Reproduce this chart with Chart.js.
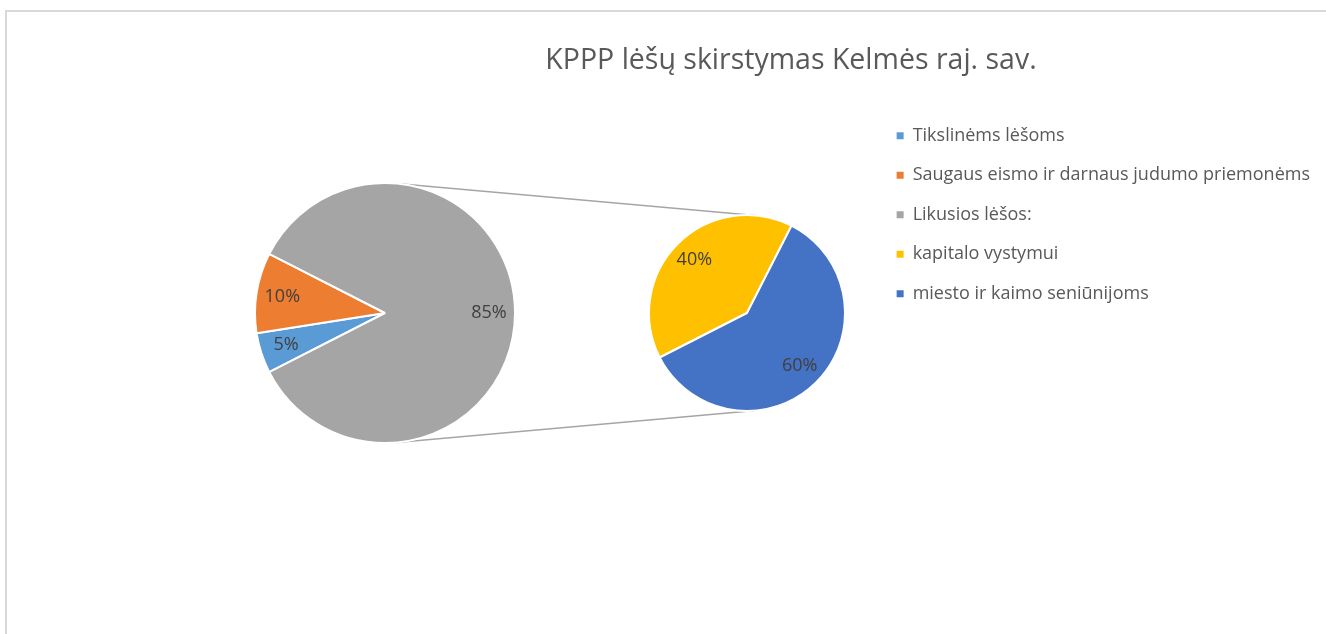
<!DOCTYPE html>
<html lang="lt">
<head>
<meta charset="utf-8">
<title>KPPP lėšų skirstymas Kelmės raj. sav.</title>
<script src="https://cdn.jsdelivr.net/npm/chart.js@4/dist/chart.umd.min.js"></script>
<style>
  html, body { margin: 0; padding: 0; background: #fff; }
  #wrap { position: relative; width: 1326px; height: 634px; overflow: hidden; background: #fff; }
  #frame {
    position: absolute; left: 5px; top: 10px; right: -10px; bottom: -10px;
    border-top: 2px solid #d9d9d9; border-left: 2px solid #d9d9d9;
  }
  canvas { position: absolute; left: 0; top: 0; }
</style>
</head>
<body>
<div id="wrap">
  <div id="frame"></div>
  <canvas id="titleChart" width="1326" height="634"></canvas>
  <canvas id="mainPie" width="1326" height="634"></canvas>
  <canvas id="subPie" width="1326" height="634"></canvas>
</div>
<script>
const chartTitle = "KPPP lėšų skirstymas Kelmės raj. sav.";

const mainLabels = ["Tikslinėms lėšoms", "Saugaus eismo ir darnaus judumo priemonėms", "Likusios lėšos:"];
const mainValues = [5, 10, 85];
const mainColors = ["#5B9BD5", "#ED7D31", "#A5A5A5"];

const subLabels = ["kapitalo vystymui", "miesto ir kaimo seniūnijoms"];
const subValues = [40, 60];
const subColors = ["#FFC000", "#4472C4"];

Chart.defaults.font.family = "'Open Sans', sans-serif";
Chart.defaults.color = "#595959";
Chart.defaults.animation = false;
Chart.defaults.events = [];

// percentage labels inside the slices
const sliceLabels = {
  id: "sliceLabels",
  afterDatasetsDraw(chart, args, opts) {
    const ctx = chart.ctx;
    const values = chart.data.datasets[0].data;
    ctx.save();
    ctx.font = "18px 'Open Sans', sans-serif";
    ctx.fillStyle = "#404040";
    ctx.textAlign = "center";
    ctx.textBaseline = "middle";
    chart.getDatasetMeta(0).data.forEach((arc, i) => {
      const mid = (arc.startAngle + arc.endAngle) / 2;
      const r = arc.outerRadius * opts.distance;
      ctx.fillText(values[i] + "%", arc.x + Math.cos(mid) * r, arc.y + Math.sin(mid) * r);
    });
    ctx.restore();
  },
};

function pieOptions(padding, distance) {
  return {
    responsive: false,
    rotation: 243,
    layout: { padding: padding },
    plugins: {
      legend: { display: false },
      tooltip: { enabled: false },
      sliceLabels: { distance: distance },
    },
  };
}

const mainChart = new Chart(document.getElementById("mainPie"), {
  type: "pie",
  data: {
    labels: mainLabels,
    datasets: [{ data: mainValues, backgroundColor: mainColors, borderColor: "#ffffff", borderWidth: 2 }],
  },
  options: pieOptions({ left: 254, right: 810, top: 182, bottom: 190 }, 0.8),
  plugins: [sliceLabels],
});

const subChart = new Chart(document.getElementById("subPie"), {
  type: "pie",
  data: {
    labels: subLabels,
    datasets: [{ data: subValues, backgroundColor: subColors, borderColor: "#ffffff", borderWidth: 2 }],
  },
  options: pieOptions({ left: 648, right: 480, top: 214, bottom: 222 }, 0.76),
  plugins: [sliceLabels],
});

// lines joining the two pies (outer tangents)
const connectors = {
  id: "connectors",
  afterDraw(chart) {
    const a = mainChart.getDatasetMeta(0).data[0];
    const b = subChart.getDatasetMeta(0).data[0];
    const s = (a.outerRadius - b.outerRadius) / (b.x - a.x);
    const c = Math.sqrt(1 - s * s);
    const ctx = chart.ctx;
    ctx.save();
    ctx.strokeStyle = "#A5A5A5";
    ctx.lineWidth = 1.5;
    [-1, 1].forEach((dir) => {
      ctx.beginPath();
      ctx.moveTo(a.x + a.outerRadius * s, a.y + dir * a.outerRadius * c);
      ctx.lineTo(b.x + b.outerRadius * s, b.y + dir * b.outerRadius * c);
      ctx.stroke();
    });
    ctx.restore();
  },
};

const allLabels = mainLabels.concat(subLabels);
const allColors = mainColors.concat(subColors);

new Chart(document.getElementById("titleChart"), {
  type: "pie",
  data: { labels: allLabels, datasets: [] },
  options: {
    responsive: false,
    layout: { padding: { left: 262, right: 6 } },
    plugins: {
      title: {
        display: true,
        text: chartTitle,
        color: "#595959",
        font: { size: 28.5, weight: "normal" },
        padding: { top: 44, bottom: 27 },
      },
      legend: {
        position: "right",
        align: "start",
        fullSize: false,
        labels: {
          color: "#595959",
          font: { size: 18 },
          boxWidth: 7,
          boxHeight: 7,
          padding: 21.5,
          generateLabels: () =>
            allLabels.map((text, i) => ({
              text: text,
              fillStyle: allColors[i],
              strokeStyle: allColors[i],
              lineWidth: 0,
              hidden: false,
              index: i,
              fontColor: "#595959",
            })),
        },
      },
      tooltip: { enabled: false },
    },
  },
  plugins: [connectors],
});
</script>
</body>
</html>
